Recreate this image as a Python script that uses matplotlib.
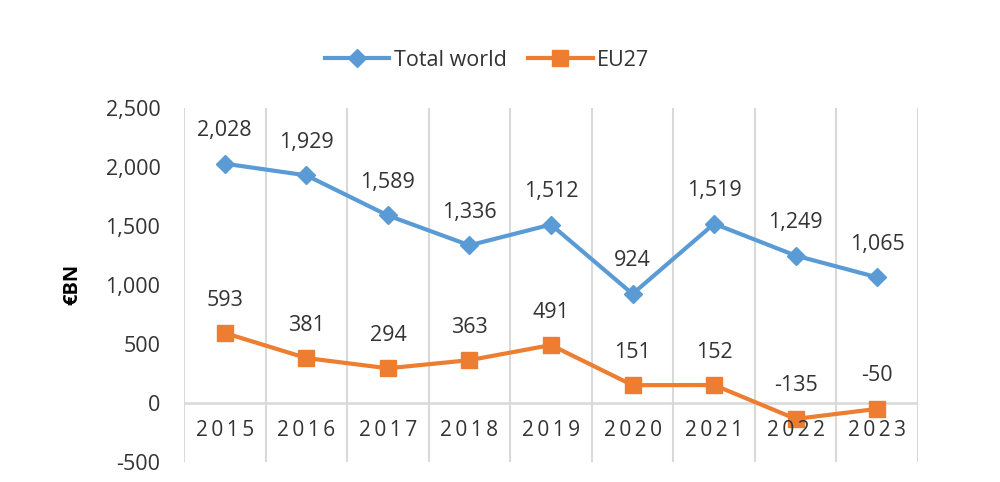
import matplotlib
matplotlib.use("Agg")
import matplotlib.pyplot as plt

years = ["2015", "2016", "2017", "2018", "2019", "2020", "2021", "2022", "2023"]
total_world = [2028, 1929, 1589, 1336, 1512, 924, 1519, 1249, 1065]
eu27 = [593, 381, 294, 363, 491, 151, 152, -135, -50]
y_ticks = [-500, 0, 500, 1000, 1500, 2000, 2500]

BLUE = "#5B9BD5"
ORANGE = "#ED7D31"
TEXT = "#333333"
GRID = "#D9D9D9"
FS = 15.5

plt.rcParams["font.family"] = ["Open Sans", "DejaVu Sans"]

fig = plt.figure(figsize=(10, 4.82), dpi=100)
ax = fig.add_axes([0.184, 0.0415, 0.734, 0.7345])

x = list(range(len(years)))
ax.plot(x, total_world, color=BLUE, lw=3, marker="D", ms=9.5, label="Total world")
ax.plot(x, eu27, color=ORANGE, lw=3, marker="s", ms=12, label="EU27")

for series in (total_world, eu27):
    for xi, v in zip(x, series):
        ax.annotate(f"{v:,}", (xi, v), textcoords="offset pixels", xytext=(0, 33),
                    ha="center", va="center", fontsize=FS, color=TEXT)

ax.set_xlim(-0.5, len(years) - 0.5)
ax.set_ylim(-500, 2500)
ax.set_yticks(y_ticks)
ax.set_yticklabels([f"{t:,}" for t in y_ticks], fontsize=FS, color=TEXT)
ax.tick_params(axis="y", length=0, pad=17)

# category boundaries as vertical gridlines
for b in range(len(years) + 1):
    ax.axvline(b - 0.5, color=GRID, lw=1.5, zorder=0)
ax.axhline(0, color=GRID, lw=1.8, zorder=0)

ax.set_xticks([])
for xi, yr in zip(x, years):
    ax.text(xi, -230, "\u2009".join(yr), ha="center", va="center",
            fontsize=FS - 0.5, color=TEXT)

for s in ax.spines.values():
    s.set_visible(False)

fig.text(0.072, 0.41, "€BN", rotation=90, ha="center", va="center",
         fontsize=FS - 1, fontweight="bold", color="#000000")

fig.legend(loc="center", bbox_to_anchor=(0.487, 0.875), ncol=2, frameon=False,
           fontsize=FS, handlelength=3.0, handletextpad=0.2, columnspacing=1.0,
           labelcolor=TEXT)

fig.savefig("out.png", dpi=100)
